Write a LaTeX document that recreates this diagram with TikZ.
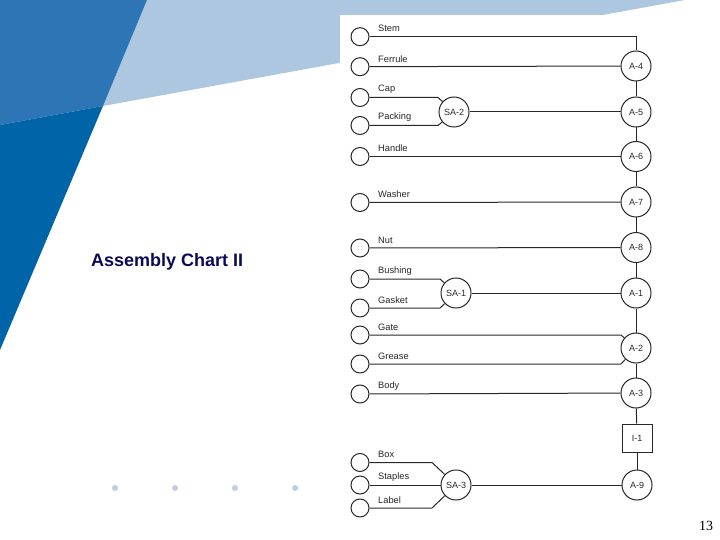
\documentclass[tikz,border=0pt]{standalone}
\usepackage{fontspec}
\setmainfont{Liberation Sans}
\newfontfamily\serifnum{Liberation Serif}
\definecolor{midblue}{RGB}{46,117,182}
\definecolor{lightblue}{RGB}{174,199,224}
\definecolor{darkblue}{RGB}{0,100,168}
\definecolor{navy}{RGB}{10,10,85}
\definecolor{dotc}{RGB}{188,205,230}
\definecolor{linec}{RGB}{40,40,40}
\begin{document}
\begin{tikzpicture}[x=1pt,y=-1pt,
  part/.style={circle, draw=linec, line width=1pt, minimum size=18pt, inner sep=0pt},
  op/.style={circle, draw=linec, line width=1pt, minimum size=30pt, inner sep=0pt, font=\fontsize{9}{10}\selectfont, text=linec},
  insp/.style={rectangle, draw=linec, line width=1pt, minimum width=30pt, minimum height=28pt, inner sep=0pt, font=\fontsize{9}{10}\selectfont, text=linec},
  lbl/.style={anchor=west, font=\fontsize{9.3}{10}\selectfont, inner sep=0pt, text=linec},
  wire/.style={draw=linec, line width=1pt},
  bgdot/.style={circle, fill=dotc, minimum size=6pt, inner sep=0pt}]
\useasboundingbox (0,0) rectangle (720,540);
% background shapes
\fill[lightblue] (147,0) -- (685,0) -- (103,106) -- cycle;
\fill[midblue] (0,0) -- (147,0) -- (103,106) -- (0,125) -- cycle;
\fill[darkblue] (0,125) -- (103,106) -- (0,350) -- cycle;
\fill[white] (340,15) rectangle (720,520);
% title
\node[font=\bfseries\fontsize{18}{20}\selectfont, text=navy, anchor=west, inner sep=0pt] (title) at (91,262) {Assembly Chart II};
% dots
\foreach \i/\x in {1/115,2/175,3/235,4/295} { \node[bgdot] (dot\i) at (\x,488) {}; }
% page number
\node[font=\serifnum\fontsize{14}{16}\selectfont, inner sep=0pt] (pnum) at (706,526) {13};
% parts
\foreach \n/\y/\t in {stem/36.7/Stem, ferrule/66.7/Ferrule, cap/97.5/Cap, packing/125.5/Packing, handle/156.5/Handle, washer/202.5/Washer, nut/248/Nut, bushing/279/Bushing, gasket/308/Gasket, gate/335/Gate, grease/364/Grease, body/394/Body, box/462.5/Box, staples/485/Staples, plabel/508/Label} {
  \node[part] (\n) at (360,\y) {};
  \node[lbl] (\n-l) at (378,\y-8) {\t};
}
% operations
\node[op] (A4) at (636,66) {A-4};
\node[op] (A5) at (636,112) {A-5};
\node[op] (A6) at (636,156.5) {A-6};
\node[op] (A7) at (636,202) {A-7};
\node[op] (A8) at (636,247.5) {A-8};
\node[op] (A1) at (636,293) {A-1};
\node[op] (A2) at (636,348) {A-2};
\node[op] (A3) at (636,393) {A-3};
\node[insp] (I1) at (637,438) {I-1};
\node[op] (A9) at (637,485) {A-9};
\node[op] (SA2) at (454,112) {SA-2};
\node[op] (SA1) at (456,293) {SA-1};
\node[op] (SA3) at (456,485) {SA-3};
% connectors
\coordinate (stemc) at (636,36.7);
\draw[wire] (stem) -- (stemc) -- (A4);
\draw[wire] (ferrule) -- (A4);
\coordinate (capc) at (438,97.5);
\coordinate (packc) at (438,125.5);
\draw[wire] (cap) -- (capc) -- (SA2);
\draw[wire] (packing) -- (packc) -- (SA2);
\draw[wire] (SA2) -- (A5);
\draw[wire] (handle) -- (A6);
\draw[wire] (washer) -- (A7);
\draw[wire] (nut) -- (A8);
\coordinate (bushc) at (440,279);
\coordinate (gaskc) at (440,308);
\draw[wire] (bushing) -- (bushc) -- (SA1);
\draw[wire] (gasket) -- (gaskc) -- (SA1);
\draw[wire] (SA1) -- (A1);
\coordinate (gatec) at (621,335);
\coordinate (greasec) at (621,364);
\draw[wire] (gate) -- (gatec) -- (A2);
\draw[wire] (grease) -- (greasec) -- (A2);
\draw[wire] (body) -- (A3);
\coordinate (boxc) at (432,462.5);
\coordinate (labc) at (432,508);
\draw[wire] (box) -- (boxc) -- (SA3);
\draw[wire] (staples) -- (SA3);
\draw[wire] (plabel) -- (labc) -- (SA3);
\draw[wire] (SA3) -- (A9);
\draw[wire] (A4) -- (A5);
\draw[wire] (A5) -- (A6);
\draw[wire] (A6) -- (A7);
\draw[wire] (A7) -- (A8);
\draw[wire] (A8) -- (A1);
\draw[wire] (A1) -- (A2);
\draw[wire] (A2) -- (A3);
\draw[wire] (A3) -- (I1);
\draw[wire] (I1) -- (A9);
\end{tikzpicture}
\end{document}
